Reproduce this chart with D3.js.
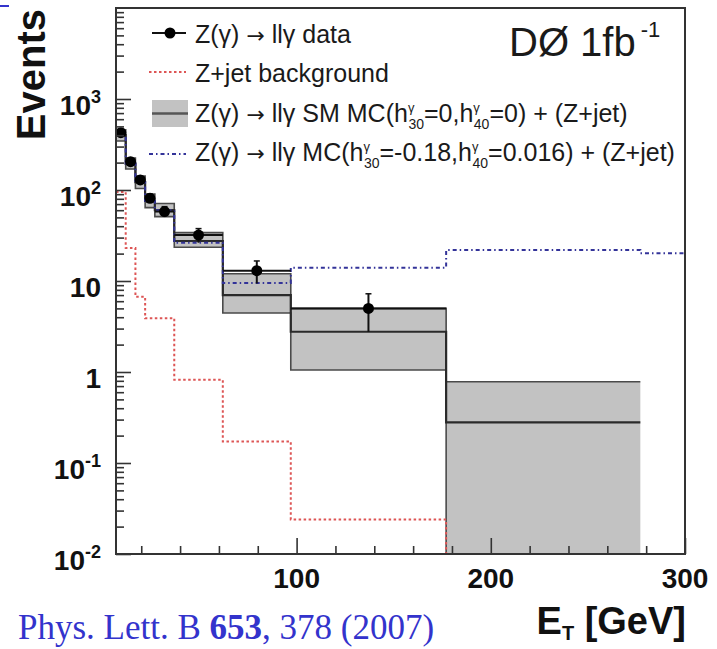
<!DOCTYPE html>
<html>
<head>
<meta charset="utf-8">
<script src="https://cdn.jsdelivr.net/npm/d3@7"></script>
<style>
  html, body { margin: 0; padding: 0; background: #fff; }
  svg { display: block; }
</style>
</head>
<body>
<svg id="chart" width="717" height="649"></svg>
<script>
// Photon E_T bin edges [GeV]
const binEdges = [7, 12, 17, 22, 27, 37, 62, 97, 177, 277, 300];
// Observed Z(gamma) -> ll gamma candidates per bin (last populated bin: 97-177)
const dataCounts = [426, 205, 129, 81, 58, 32, 13, 5];
// Z+jet background estimate
const zjetBkg = [95, 23, 6.7, 3.9, 3.9, 0.82, 0.172, 0.024, 0];
// SM MC + Z+jet: central value and uncertainty band
const smCentral = [400, 195, 122, 76, 60, 27.5, 7.0, 2.77, 0.28];
const smLow = [345, 170, 104, 64, 51, 23.5, 4.45, 1.05, 0];
const smHigh = [460, 225, 142, 90, 71, 34, 12.0, 5.0, 0.78];
// Anomalous-coupling MC (h30 = -0.18, h40 = 0.016) + Z+jet
const atgcMC = [400, 195, 122, 76, 60, 26.4, 9.5, 14.0, 21.9, 20.2];
// Axis ticks
const yMajorTicks = [1e-2, 1e-1, 1, 10, 1e2, 1e3];
const yTickLabels = [["10", "-2"], ["10", "-1"], ["1", ""], ["10", ""], ["10", "2"], ["10", "3"]];
const xMajorTicks = [100, 200, 300];
const xMinorTicks = [20, 40, 60, 80, 120, 140, 160, 180, 220, 240, 260, 280];

const svg = d3.select("#chart");
const plot = { left: 116, right: 685, top: 8, bottom: 554 };

const x = d3.scaleLinear().domain([7, 300]).range([plot.left, plot.right]);
const y = d3.scaleLog().domain([1e-2, 1e4]).range([plot.bottom, plot.top]);
const yv = v => (v > 0 ? y(v) : plot.bottom + 1);

svg.append("defs").append("clipPath").attr("id", "plotclip")
  .append("rect")
  .attr("x", plot.left).attr("y", plot.top)
  .attr("width", plot.right - plot.left).attr("height", plot.bottom - plot.top + 1);

// step-histogram points from per-bin values
function stepPoints(values) {
  const pts = [];
  values.forEach((v, i) => {
    pts.push([binEdges[i], v]);
    pts.push([binEdges[i + 1], v]);
  });
  return pts;
}
const stepLine = d3.line().x(d => x(d[0])).y(d => yv(d[1]));

const g = svg.append("g").attr("clip-path", "url(#plotclip)");

// SM uncertainty band
const bandPts = smLow.map((lo, i) => [
  [binEdges[i], lo, smHigh[i]],
  [binEdges[i + 1], lo, smHigh[i]]
]).flat();
g.append("path")
  .attr("d", d3.area().x(d => x(d[0])).y0(d => yv(d[1])).y1(d => yv(d[2]))(bandPts))
  .attr("fill", "#c2c2c2").attr("stroke", "none");
g.append("path").attr("d", stepLine(stepPoints(smHigh)))
  .attr("fill", "none").attr("stroke", "#4a4a4a").attr("stroke-width", 1.6);
g.append("path").attr("d", stepLine(stepPoints(smLow)))
  .attr("fill", "none").attr("stroke", "#4a4a4a").attr("stroke-width", 1.6);
g.append("path").attr("d", stepLine(stepPoints(smCentral)))
  .attr("fill", "none").attr("stroke", "#2a2a2a").attr("stroke-width", 2.2);

// Z+jet background
g.append("path").attr("d", stepLine(stepPoints(zjetBkg)))
  .attr("fill", "none").attr("stroke", "#dd5555").attr("stroke-width", 2)
  .attr("stroke-dasharray", "2.5,2.5");

// anomalous-coupling prediction
g.append("path").attr("d", stepLine(stepPoints(atgcMC)))
  .attr("fill", "none").attr("stroke", "#333399").attr("stroke-width", 2)
  .attr("stroke-dasharray", "4,3,1.5,3");

// data points with Poisson errors and bin-width bars
const pts = dataCounts.map((n, i) => ({
  x0: binEdges[i], x1: binEdges[i + 1], xc: (binEdges[i] + binEdges[i + 1]) / 2,
  n: n, lo: n - Math.sqrt(n), hi: n + Math.sqrt(n)
}));
const dg = g.append("g");
dg.selectAll("line.xerr").data(pts).join("line").attr("class", "xerr")
  .attr("x1", d => x(d.x0)).attr("x2", d => x(d.x1))
  .attr("y1", d => y(d.n)).attr("y2", d => y(d.n))
  .attr("stroke", "#111").attr("stroke-width", 2);
dg.selectAll("line.yerr").data(pts).join("line").attr("class", "yerr")
  .attr("x1", d => x(d.xc)).attr("x2", d => x(d.xc))
  .attr("y1", d => y(d.lo)).attr("y2", d => y(d.hi))
  .attr("stroke", "#111").attr("stroke-width", 2);
dg.selectAll("line.cap").data(pts).join("line").attr("class", "cap")
  .attr("x1", d => x(d.xc) - 3).attr("x2", d => x(d.xc) + 3)
  .attr("y1", d => y(d.hi)).attr("y2", d => y(d.hi))
  .attr("stroke", "#111").attr("stroke-width", 1.5);
dg.selectAll("circle").data(pts).join("circle")
  .attr("cx", d => x(d.xc)).attr("cy", d => y(d.n)).attr("r", 5.5)
  .attr("fill", "#000");

// axes: ticks drawn inward
const yMinor = y.ticks().filter(t => !yMajorTicks.includes(t) && t < 1e4);
const axisStyle = sel => {
  sel.select(".domain").remove();
  sel.selectAll(".tick line").attr("stroke", "#333").attr("stroke-width", 1.6);
  sel.selectAll(".tick text").remove();
};
svg.append("g").attr("transform", `translate(${plot.left},0)`)
  .call(d3.axisRight(y).tickValues(yMajorTicks).tickSize(15).tickFormat(""))
  .call(axisStyle);
svg.append("g").attr("transform", `translate(${plot.left},0)`)
  .call(d3.axisRight(y).tickValues(yMinor).tickSize(8).tickFormat(""))
  .call(axisStyle);
svg.append("g").attr("transform", `translate(0,${plot.bottom})`)
  .call(d3.axisTop(x).tickValues(xMajorTicks).tickSize(16).tickFormat(""))
  .call(axisStyle);
svg.append("g").attr("transform", `translate(0,${plot.bottom})`)
  .call(d3.axisTop(x).tickValues(xMinorTicks).tickSize(8).tickFormat(""))
  .call(axisStyle);

// frame
svg.append("rect")
  .attr("x", plot.left).attr("y", plot.top)
  .attr("width", plot.right - plot.left).attr("height", plot.bottom - plot.top)
  .attr("fill", "none").attr("stroke", "#333").attr("stroke-width", 2);

// tick labels
const labelFont = "'Liberation Sans', Arial, Helvetica, sans-serif";
yMajorTicks.forEach((t, i) => {
  const [base, exp] = yTickLabels[i];
  const txt = svg.append("text")
    .attr("x", 101).attr("y", y(t) + 16)
    .attr("text-anchor", "end")
    .attr("font-family", labelFont).attr("font-weight", "bold")
    .attr("font-size", 28).attr("fill", "#111");
  txt.append("tspan").text(base);
  if (exp) {
    txt.append("tspan").attr("dy", -12).attr("font-size", 18).text(exp);
  }
});
xMajorTicks.forEach(t => {
  svg.append("text")
    .attr("x", x(t)).attr("y", 588)
    .attr("text-anchor", "middle")
    .attr("font-family", labelFont).attr("font-weight", "bold")
    .attr("font-size", 28).attr("fill", "#111")
    .text(t);
});

// axis titles
svg.append("text")
  .attr("transform", "translate(45,9) rotate(-90)")
  .attr("text-anchor", "end")
  .attr("font-family", labelFont).attr("font-weight", "bold")
  .attr("font-size", 40).attr("fill", "#111")
  .text("Events");
const xt = svg.append("text")
  .attr("x", 686).attr("y", 634)
  .attr("text-anchor", "end")
  .attr("font-family", labelFont).attr("font-weight", "bold")
  .attr("font-size", 38).attr("fill", "#111");
xt.append("tspan").text("E");
xt.append("tspan").attr("dy", 6).attr("font-size", 20).text("T");
xt.append("tspan").attr("dy", -6).text(" [GeV]");

// experiment label
const dl = svg.append("text")
  .attr("x", 509).attr("y", 56)
  .attr("font-family", labelFont).attr("font-size", 40).attr("fill", "#1a1a1a");
dl.append("tspan").text("DØ 1fb");
dl.append("tspan").attr("dx", 5).attr("dy", -19).attr("font-size", 22).text("-1");

// legend
const lg = svg.append("g");
const legFont = 25;
function legendText(yBase) {
  return lg.append("text").attr("x", 195).attr("y", yBase)
    .attr("font-family", labelFont).attr("font-size", legFont).attr("fill", "#1a1a1a");
}
// "Z(γ) → llγ" with a full-width arrow glyph
function addProcess(t) {
  t.append("tspan").text("Z(γ) ");
  t.append("tspan").attr("font-family", "'DejaVu Sans', sans-serif").attr("font-size", 22).text("→");
  t.append("tspan").text(" llγ ");
}
// coupling label h^gamma_sub with stacked super/subscripts
function addCoupling(t, sub, after) {
  t.append("tspan").text("h");
  t.append("tspan").attr("dy", -10).attr("font-size", 13).text("γ");
  t.append("tspan").attr("dx", -6).attr("dy", 17).attr("font-size", 14).text(sub);
  t.append("tspan").attr("dy", -7).text(after);
}
// entry 1: data
lg.append("line").attr("x1", 152).attr("x2", 186).attr("y1", 33).attr("y2", 33)
  .attr("stroke", "#111").attr("stroke-width", 2);
lg.append("circle").attr("cx", 170).attr("cy", 33).attr("r", 5.5).attr("fill", "#000");
const t1 = legendText(43);
addProcess(t1);
t1.append("tspan").text("data");
// entry 2: background
lg.append("line").attr("x1", 149).attr("x2", 186).attr("y1", 72).attr("y2", 72)
  .attr("stroke", "#dd5555").attr("stroke-width", 2).attr("stroke-dasharray", "2.5,2.5");
legendText(82).text("Z+jet background");
// entry 3: SM band
lg.append("rect").attr("x", 152).attr("y", 100).attr("width", 36).attr("height", 27)
  .attr("fill", "#c2c2c2");
lg.append("line").attr("x1", 152).attr("x2", 188).attr("y1", 113.5).attr("y2", 113.5)
  .attr("stroke", "#555").attr("stroke-width", 2.5);
const t3 = legendText(122);
addProcess(t3);
t3.append("tspan").text("SM MC(");
addCoupling(t3, "30", "=0,");
addCoupling(t3, "40", "=0) + (Z+jet)");
// entry 4: anomalous couplings
lg.append("line").attr("x1", 149).attr("x2", 186).attr("y1", 154).attr("y2", 154)
  .attr("stroke", "#333399").attr("stroke-width", 2).attr("stroke-dasharray", "4,3,1.5,3");
const t4 = legendText(161);
addProcess(t4);
t4.append("tspan").text("MC(");
addCoupling(t4, "30", "=-0.18,");
addCoupling(t4, "40", "=0.016) + (Z+jet)");

// reference line
const ref = svg.append("text")
  .attr("x", 18).attr("y", 639)
  .attr("font-family", "'Liberation Serif', 'Times New Roman', serif")
  .attr("font-size", 35).attr("fill", "#3333cc");
ref.append("tspan").text("Phys. Lett. B ");
ref.append("tspan").attr("font-weight", "bold").text("653");
ref.append("tspan").text(", 378 (2007)");

// corner mark
svg.append("line").attr("x1", 0).attr("x2", 9).attr("y1", 6).attr("y2", 6)
  .attr("stroke", "#3333cc").attr("stroke-width", 2);
</script>
</body>
</html>
